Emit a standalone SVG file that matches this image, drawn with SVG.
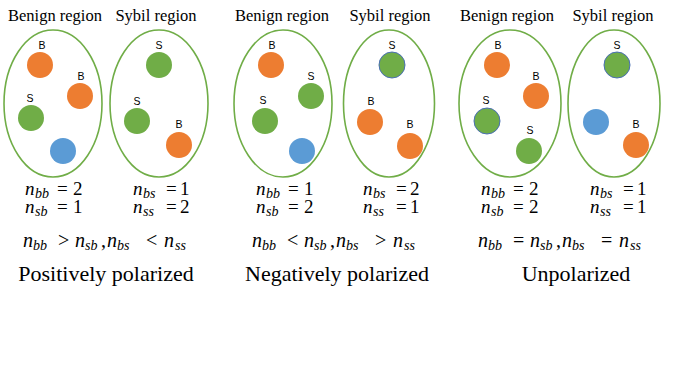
<svg xmlns="http://www.w3.org/2000/svg" width="677" height="379" viewBox="0 0 677 379">
<style>
.reg{fill:none;stroke:#70AD47;stroke-width:1.6}
.o{fill:#ED7D31}
.g{fill:#70AD47}
.gb{fill:#70AD47;stroke:#4A6FB5;stroke-width:1}
.b{fill:#5B9BD5}
.lab{font-family:'Liberation Sans',Arial,sans-serif;font-size:10.5px;fill:#000;text-anchor:middle}
.title{font-family:'Liberation Serif','Times New Roman',serif;font-size:16.5px;fill:#000;text-anchor:middle}
.eq{font-family:'Liberation Serif','Times New Roman',serif;font-size:19px;fill:#000}
.big{font-family:'Liberation Serif','Times New Roman',serif;font-size:20px;fill:#000}
.cap{font-family:'Liberation Serif','Times New Roman',serif;font-size:22px;fill:#000;text-anchor:middle}
.i{font-style:italic}
.s{font-style:italic;font-size:14px}
</style>
<rect width="677" height="379" fill="#fff"/>
<g id="connectors"/>

<!-- Panel 1 -->
<g id="p1-benign">
<text class="title" x="55" y="21">Benign region</text>
<ellipse class="reg" cx="53" cy="103.5" rx="49" ry="73.5"/>
<circle class="o" cx="40" cy="65" r="13"/><text class="lab" x="42" y="49">B</text>
<circle class="o" cx="80" cy="96" r="13"/><text class="lab" x="81" y="80">B</text>
<circle class="g" cx="31" cy="118" r="13"/><text class="lab" x="30" y="102">S</text>
<circle class="b" cx="63" cy="151" r="13"/>
</g>
<g id="p1-sybil">
<text class="title" x="156" y="21">Sybil region</text>
<ellipse class="reg" cx="159" cy="103.5" rx="49" ry="73.5"/>
<circle class="g" cx="159" cy="65" r="13"/><text class="lab" x="159" y="49">S</text>
<circle class="g" cx="137" cy="121" r="13"/><text class="lab" x="137" y="105">S</text>
<circle class="o" cx="179" cy="145" r="13"/><text class="lab" x="179" y="128">B</text>
</g>
<g id="p1-text">
<text class="eq" y="195"><tspan class="i" x="25">n</tspan><tspan class="s" x="35" dy="3">bb</tspan><tspan x="57" dy="-3">=</tspan><tspan x="73">2</tspan></text>
<text class="eq" y="213"><tspan class="i" x="25">n</tspan><tspan class="s" x="35" dy="3">sb</tspan><tspan x="57" dy="-3">=</tspan><tspan x="73">1</tspan></text>
<text class="eq" y="195"><tspan class="i" x="133">n</tspan><tspan class="s" x="143" dy="3">bs</tspan><tspan x="166" dy="-3">=</tspan><tspan x="180">1</tspan></text>
<text class="eq" y="213"><tspan class="i" x="133">n</tspan><tspan class="s" x="143" dy="3">ss</tspan><tspan x="166" dy="-3">=</tspan><tspan x="180">2</tspan></text>
<text class="big" y="247"><tspan class="i" x="23">n</tspan><tspan class="s" x="33" dy="3">bb</tspan><tspan x="58" dy="-3">&gt;</tspan><tspan class="i" x="75">n</tspan><tspan class="s" x="85" dy="3">sb</tspan><tspan x="101" dy="-3">,</tspan><tspan class="i" x="107">n</tspan><tspan class="s" x="117" dy="3">bs</tspan><tspan x="146" dy="-3">&lt;</tspan><tspan class="i" x="164">n</tspan><tspan class="s" x="175" dy="3">ss</tspan></text>
<text class="cap" x="106" y="281">Positively polarized</text>
</g>

<!-- Panel 2 -->
<g id="p2-benign">
<text class="title" x="282" y="21">Benign region</text>
<ellipse class="reg" cx="283" cy="103.5" rx="49" ry="73.5"/>
<circle class="o" cx="271" cy="65" r="13"/><text class="lab" x="272" y="49">B</text>
<circle class="g" cx="311" cy="96" r="13"/><text class="lab" x="311" y="80">S</text>
<circle class="g" cx="265" cy="121" r="13"/><text class="lab" x="263" y="104">S</text>
<circle class="b" cx="302" cy="151" r="13"/>
</g>
<g id="p2-sybil">
<text class="title" x="390" y="21">Sybil region</text>
<ellipse class="reg" cx="389" cy="103.5" rx="45.5" ry="73.5"/>
<circle class="gb" cx="392" cy="65" r="13"/><text class="lab" x="392" y="49">S</text>
<circle class="o" cx="370" cy="122" r="13"/><text class="lab" x="371" y="105">B</text>
<circle class="o" cx="410" cy="146" r="13"/><text class="lab" x="410" y="128">B</text>
</g>
<g id="p2-text">
<text class="eq" y="195"><tspan class="i" x="256">n</tspan><tspan class="s" x="266" dy="3">bb</tspan><tspan x="288" dy="-3">=</tspan><tspan x="304">1</tspan></text>
<text class="eq" y="213"><tspan class="i" x="256">n</tspan><tspan class="s" x="266" dy="3">sb</tspan><tspan x="288" dy="-3">=</tspan><tspan x="304">2</tspan></text>
<text class="eq" y="195"><tspan class="i" x="363">n</tspan><tspan class="s" x="373" dy="3">bs</tspan><tspan x="396" dy="-3">=</tspan><tspan x="410">2</tspan></text>
<text class="eq" y="213"><tspan class="i" x="363">n</tspan><tspan class="s" x="373" dy="3">ss</tspan><tspan x="396" dy="-3">=</tspan><tspan x="410">1</tspan></text>
<text class="big" y="247"><tspan class="i" x="252">n</tspan><tspan class="s" x="262" dy="3">bb</tspan><tspan x="287" dy="-3">&lt;</tspan><tspan class="i" x="304">n</tspan><tspan class="s" x="314" dy="3">sb</tspan><tspan x="330" dy="-3">,</tspan><tspan class="i" x="336">n</tspan><tspan class="s" x="346" dy="3">bs</tspan><tspan x="375" dy="-3">&gt;</tspan><tspan class="i" x="393">n</tspan><tspan class="s" x="404" dy="3">ss</tspan></text>
<text class="cap" x="337" y="281">Negatively polarized</text>
</g>

<!-- Panel 3 -->
<g id="p3-benign">
<text class="title" x="507" y="21">Benign region</text>
<ellipse class="reg" cx="510" cy="103.5" rx="51" ry="73.5"/>
<circle class="o" cx="497" cy="65" r="13"/><text class="lab" x="498" y="49">B</text>
<circle class="o" cx="536" cy="96" r="13"/><text class="lab" x="536" y="80">B</text>
<circle class="gb" cx="487" cy="121" r="13"/><text class="lab" x="486" y="104">S</text>
<circle class="g" cx="529" cy="151" r="13"/><text class="lab" x="530" y="134">S</text>
</g>
<g id="p3-sybil">
<text class="title" x="613" y="21">Sybil region</text>
<ellipse class="reg" cx="614" cy="103.5" rx="46" ry="73.5"/>
<circle class="gb" cx="617" cy="65" r="13"/><text class="lab" x="617" y="49">S</text>
<circle class="b" cx="596" cy="122" r="13"/>
<circle class="o" cx="636" cy="145" r="13"/><text class="lab" x="636" y="128">B</text>
</g>
<g id="p3-text">
<text class="eq" y="195"><tspan class="i" x="481">n</tspan><tspan class="s" x="491" dy="3">bb</tspan><tspan x="513" dy="-3">=</tspan><tspan x="529">2</tspan></text>
<text class="eq" y="213"><tspan class="i" x="481">n</tspan><tspan class="s" x="491" dy="3">sb</tspan><tspan x="513" dy="-3">=</tspan><tspan x="529">2</tspan></text>
<text class="eq" y="195"><tspan class="i" x="590">n</tspan><tspan class="s" x="600" dy="3">bs</tspan><tspan x="623" dy="-3">=</tspan><tspan x="637">1</tspan></text>
<text class="eq" y="213"><tspan class="i" x="590">n</tspan><tspan class="s" x="600" dy="3">ss</tspan><tspan x="623" dy="-3">=</tspan><tspan x="637">1</tspan></text>
<text class="big" y="247"><tspan class="i" x="478">n</tspan><tspan class="s" x="488" dy="3">bb</tspan><tspan x="513" dy="-3">=</tspan><tspan class="i" x="530">n</tspan><tspan class="s" x="540" dy="3">sb</tspan><tspan x="556" dy="-3">,</tspan><tspan class="i" x="562">n</tspan><tspan class="s" x="572" dy="3">bs</tspan><tspan x="601" dy="-3">=</tspan><tspan class="i" x="619">n</tspan><tspan class="s" x="630" dy="3">ss</tspan></text>
<text class="cap" x="576" y="281">Unpolarized</text>
</g>
</svg>
